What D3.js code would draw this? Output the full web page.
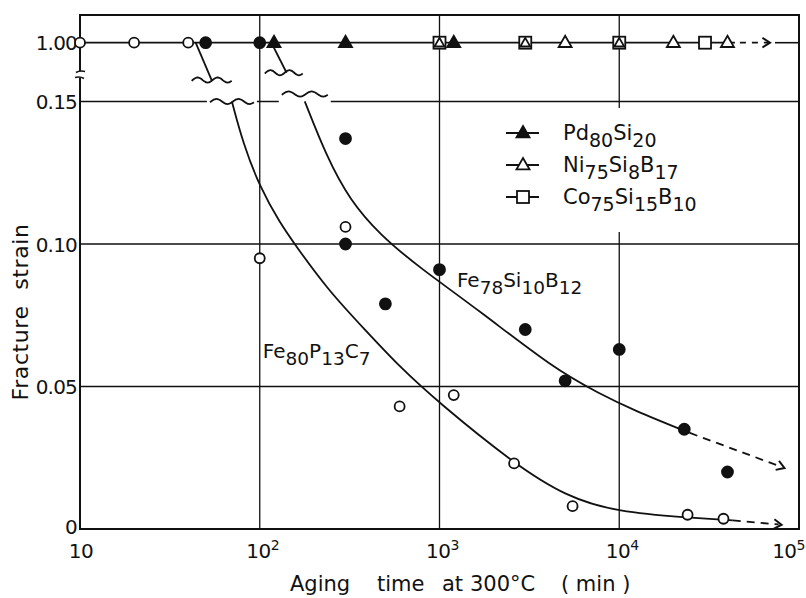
<!DOCTYPE html>
<html><head><meta charset="utf-8">
<script src="https://cdn.jsdelivr.net/npm/d3@7"></script>
<style>
body{margin:0;background:#fff}
text{font-family:"DejaVu Sans",sans-serif;fill:#111}
</style>
</head><body>
<svg id="chart" width="806" height="598"></svg>
<script>
// ---------------- data ----------------
const xTickValues = [10, 100, 1000, 10000, 100000];
const xTickSup = ["", "2", "3", "4", "5"];
const yTickValues = [0, 0.05, 0.10, 0.15, 1.00];
const yTickLabels = ["0", "0.05", "0.10", "0.15", "1.00"];
const xTitle = ["Aging", "time", "at", "300°C", "( min )"];
const yTitle = "Fracture strain";

// points at fracture strain 1.00 (fully ductile)
const fe80TopTimes = [10, 20, 40];
const fe78TopTimes = [50, 100];
const pdTimes = [120, 300, 1200];
const niTimes = [1000, 3000, 5000, 10000, 20000, 40000];
const coTimes = [1000, 3000, 10000, 30000];
const topSolidEnd = 44000, topArrowEnd = 69000;

// Fe80P13C7 (open circles)
const fe80Times  = [100, 300, 600, 1200, 2600, 5500, 24000, 38000];
const fe80Strain = [0.095, 0.106, 0.043, 0.047, 0.023, 0.008, 0.005, 0.0036];
// Fe78Si10B12 (filled circles)
const fe78Times  = [300, 300, 500, 1000, 3000, 5000, 10000, 23000, 40000];
const fe78Strain = [0.137, 0.100, 0.079, 0.091, 0.070, 0.052, 0.063, 0.035, 0.020];

// fitted curves
const fe80CurveT = [70, 80.7, 100, 129.5, 159, 239.5, 385, 602, 980, 2560, 5110, 9820, 23800, 42800];
const fe80CurveS = [0.150, 0.1354, 0.120, 0.1074, 0.0993, 0.0839, 0.0699, 0.0568, 0.0446, 0.0232, 0.0112, 0.0060, 0.0040, 0.0030];
const fe80ArrowT = [42800, 80000];
const fe80ArrowS = [0.0030, 0.0015];
const fe78CurveT = [178, 236, 317, 466, 778, 1677, 4273, 7800, 11900, 24700];
const fe78CurveS = [0.152, 0.1305, 0.1154, 0.1032, 0.0916, 0.0765, 0.0565, 0.0474, 0.0418, 0.0337];
const fe78ArrowT = [24700, 83000];
const fe78ArrowS = [0.0337, 0.0214];

// axis-break connectors (time, strain on broken axis)
const breakFrom  = [[44, 1.0], [116, 1.0]];
const breakTo    = [[54, 0.46], [141, 0.566]];
const waveUpper  = [[54, 0.46, 40], [136, 0.566, 38]];
const waveLower  = [[70, 0.150, 44], [178, 0.258, 46]];

const legendNames = [["Pd","80","Si","20"], ["Ni","75","Si","8","B","17"], ["Co","75","Si","15","B","10"]];
const legendSymbols = ["triFilled", "triOpen", "square"];
const curveLabels = [["Fe","80","P","13","C","7"], ["Fe","78","Si","10","B","12"]];
const curveLabelPos = [[104, 0.060], [1250, 0.0848]];

// ---------------- drawing ----------------
const svg = d3.select("#chart");
const L = 80, R = 799, T = 15, B = 529;
const x = d3.scaleLog().domain([10, 100000]).range([L, R]);
const y = d3.scaleLinear().domain([0, 0.15, 1.0]).range([B, 101.5, 42.7]);
const ink = "#111";

const g = svg.append("g");

// grid
const grid = g.append("g").attr("stroke", ink).attr("stroke-width", 1.3);
[100, 1000, 10000].forEach(t => grid.append("line")
  .attr("x1", x(t)).attr("x2", x(t)).attr("y1", T).attr("y2", B));
[0.05, 0.10, 0.15].forEach(v => grid.append("line")
  .attr("x1", L).attr("x2", R).attr("y1", y(v)).attr("y2", y(v)));

// erasers: legend background and gaps below the break marks
g.append("rect").attr("x", 500).attr("y", 108).attr("width", 220).attr("height", 124).attr("fill", "#fff");
waveLower.forEach(([t, v, w]) => {
  g.append("rect").attr("x", x(t) - w / 2 - 3).attr("y", y(v) - 4).attr("width", w + 6)
    .attr("height", y(0.15) - y(v) + 6).attr("fill", "#fff");
});

// frame with break in the left axis
const frame = g.append("g").attr("stroke", ink).attr("stroke-width", 2).attr("fill", "none");
frame.append("path").attr("d", `M${L},71 L${L},${T} L${R},${T} L${R},${B} L${L},${B} L${L},78`);
frame.append("path").attr("d", `M${L-4},72.5 Q${L},70 ${L+5},71.5`).attr("stroke-width", 1.6);
frame.append("path").attr("d", `M${L-5},77.5 Q${L},76 ${L+4},78.5`).attr("stroke-width", 1.6);
frame.append("line").attr("x1", R - 24).attr("x2", R).attr("y1", y(1)).attr("y2", y(1)).attr("stroke-width", 1.6);

// y tick labels
g.append("g").selectAll("text").data(yTickValues).join("text")
  .attr("x", 77).attr("y", d => d === 0 ? y(d) + 5 : y(d) + 7.5).attr("text-anchor", "end")
  .attr("font-size", 20).attr("letter-spacing", -0.8)
  .text((d, i) => yTickLabels[i]);

// x tick labels
xTickValues.forEach((t, i) => {
  const last = i === xTickValues.length - 1;
  const tx = g.append("text").attr("y", 558).attr("font-size", 20).attr("letter-spacing", -0.5)
    .attr("x", last ? x(t) + 6 : x(t) + (i === 0 ? 1 : 3))
    .attr("text-anchor", last ? "end" : "middle");
  tx.append("tspan").text("10");
  if (xTickSup[i]) tx.append("tspan").attr("dy", -8).attr("font-size", 14).text(xTickSup[i]);
});

// axis titles
const xt = g.append("text").attr("y", 591).attr("font-size", 21);
const xtPos = [290, 377, 442, 470, 561];
xTitle.forEach((w, i) => xt.append("tspan").attr("x", xtPos[i]).text(w));
g.append("text").attr("transform", "translate(28,312) rotate(-90)")
  .attr("text-anchor", "middle").attr("font-size", 22).attr("letter-spacing", 0.6)
  .attr("word-spacing", 8).text(yTitle);

// lines
const lines = g.append("g").attr("stroke", ink).attr("fill", "none").attr("stroke-width", 1.8);
lines.append("line").attr("x1", x(10)).attr("x2", x(topSolidEnd)).attr("y1", y(1)).attr("y2", y(1));
lines.append("line").attr("x1", x(topSolidEnd)).attr("x2", x(topArrowEnd) - 2).attr("y1", y(1)).attr("y2", y(1))
  .attr("stroke-dasharray", "6,6").attr("stroke-dashoffset", -5);

function arrowHead(px, py, ang) {
  const s = 9;
  const a1 = ang + Math.PI * 0.82, a2 = ang - Math.PI * 0.82;
  lines.append("path").attr("stroke-width", 2)
    .attr("d", `M${px + s * Math.cos(a1)},${py + s * Math.sin(a1)} L${px},${py} L${px + s * Math.cos(a2)},${py + s * Math.sin(a2)}`);
}
arrowHead(x(topArrowEnd), y(1), 0);

const lineGen = d3.line().curve(d3.curveBasis);
const fe80Pts = fe80CurveT.map((t, i) => [x(t), y(fe80CurveS[i])]);
const fe78Pts = fe78CurveT.map((t, i) => [x(t), y(fe78CurveS[i])]);
lines.append("path").attr("d", lineGen(fe80Pts));
lines.append("path").attr("d", lineGen(fe78Pts));
[[fe80ArrowT, fe80ArrowS], [fe78ArrowT, fe78ArrowS]].forEach(([ts, ss]) => {
  const x1 = x(ts[0]), y1 = y(ss[0]), x2 = x(ts[1]), y2 = y(ss[1]);
  const ang = Math.atan2(y2 - y1, x2 - x1);
  lines.append("line").attr("x1", x1).attr("y1", y1)
    .attr("x2", x2 - 3 * Math.cos(ang)).attr("y2", y2 - 3 * Math.sin(ang))
    .attr("stroke-dasharray", "8,6");
  arrowHead(x2, y2, ang);
});

// break connectors and wavy marks
breakFrom.forEach((f, i) => {
  lines.append("line").attr("x1", x(f[0])).attr("y1", y(f[1]))
    .attr("x2", x(breakTo[i][0])).attr("y2", y(breakTo[i][1]));
});
function wave(cx, cy, w) {
  const pts = d3.range(0, 41).map(k => {
    const u = k / 40;
    return [cx - w / 2 + u * w, cy - 2.6 * Math.sin(u * Math.PI * 4 - 0.3)];
  });
  return d3.line().curve(d3.curveBasis)(pts);
}
waveUpper.concat(waveLower).forEach(([t, v, w]) => {
  lines.append("path").attr("d", wave(x(t), y(v), w));
});

// markers
const mk = g.append("g").attr("stroke", ink).attr("stroke-width", 1.8);
function triPath(cx, cy, s) {
  const h = s * 0.866;
  return `M${cx},${cy - h * 0.62} L${cx + s / 2},${cy + h * 0.38} L${cx - s / 2},${cy + h * 0.38} Z`;
}
function drawSymbol(sel, type, cx, cy) {
  if (type === "openCircle") sel.append("circle").attr("cx", cx).attr("cy", cy).attr("r", 5).attr("fill", "#fff");
  else if (type === "filledCircle") sel.append("circle").attr("cx", cx).attr("cy", cy).attr("r", 5.5).attr("fill", ink);
  else if (type === "triFilled") sel.append("path").attr("d", triPath(cx, cy, 13)).attr("fill", ink);
  else if (type === "triOpen") sel.append("path").attr("d", triPath(cx, cy, 13)).attr("fill", "#fff");
  else if (type === "square") sel.append("rect").attr("x", cx - 6).attr("y", cy - 6).attr("width", 12).attr("height", 12).attr("fill", "#fff");
}
coTimes.forEach(t => drawSymbol(mk, "square", x(t), y(1)));
niTimes.forEach(t => {
  if (coTimes.includes(t)) mk.append("path").attr("d", triPath(x(t), y(1) + 0.5, 10)).attr("fill", "none").attr("stroke-width", 1.8);
  else drawSymbol(mk, "triOpen", x(t), y(1));
});
pdTimes.forEach(t => drawSymbol(mk, "triFilled", x(t), y(1)));
fe80TopTimes.forEach(t => drawSymbol(mk, "openCircle", x(t), y(1)));
fe78TopTimes.forEach(t => drawSymbol(mk, "filledCircle", x(t), y(1)));
fe80Times.forEach((t, i) => drawSymbol(mk, "openCircle", x(t), y(fe80Strain[i])));
fe78Times.forEach((t, i) => drawSymbol(mk, "filledCircle", x(t), y(fe78Strain[i])));

// formula text helper
function formula(sel, parts, px, py, main, sub, dy) {
  const t = sel.append("text").attr("x", px).attr("y", py).attr("font-size", main);
  let shifted = false;
  parts.forEach((p, i) => {
    const isSub = i % 2 === 1;
    const ts = t.append("tspan").text(p);
    if (isSub) { ts.attr("font-size", sub); if (!shifted) { ts.attr("dy", dy); shifted = true; } }
    else if (shifted) { ts.attr("dy", -dy); shifted = false; }
  });
  return t;
}

// legend
const leg = g.append("g");
const legY = [133, 165, 197];
legendNames.forEach((parts, i) => {
  leg.append("line").attr("x1", 506).attr("x2", 539).attr("y1", legY[i]).attr("y2", legY[i])
    .attr("stroke", ink).attr("stroke-width", 1.8);
  drawSymbol(leg.append("g").attr("stroke", ink).attr("stroke-width", 1.8), legendSymbols[i], 523, legY[i]);
  formula(leg, parts, 563, legY[i] + 7, 21, 19, 7);
});

// curve labels
curveLabels.forEach((parts, i) => {
  formula(g, parts, x(curveLabelPos[i][0]), y(curveLabelPos[i][1]), 20, 18.5, 7);
});
</script>
</body></html>
